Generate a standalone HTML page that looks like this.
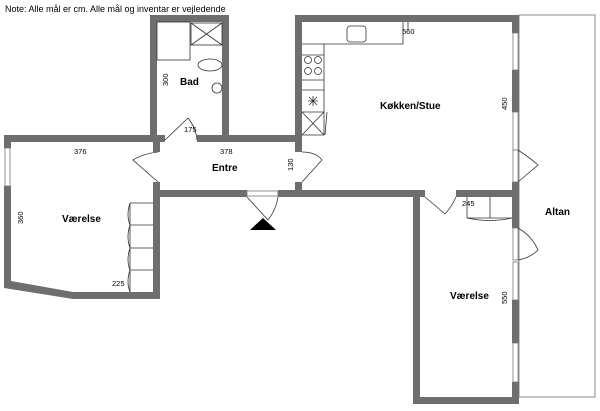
<!DOCTYPE html>
<html><head><meta charset="utf-8"><style>
html,body{margin:0;padding:0;background:#fff;width:600px;height:411px;overflow:hidden}
svg{display:block}
text{font-family:"Liberation Sans",sans-serif;fill:#000}
.b{font-weight:bold;font-size:10px}
.s{font-size:7.5px}
</style></head><body>
<svg width="600" height="411" viewBox="0 0 600 411" xmlns="http://www.w3.org/2000/svg">
<text x="5" y="12" font-size="9">Note: Alle mål er cm. Alle mål og inventar er vejledende</text>
<!-- Altan -->
<rect x="519" y="15" width="76" height="382" fill="none" stroke="#888" stroke-width="1"/>
<g fill="#6e6e6e">
<!-- Bad -->
<rect x="150" y="15" width="79" height="7"/>
<rect x="150" y="15" width="7" height="127"/>
<rect x="222" y="15" width="7" height="127"/>
<!-- top of entre / left room -->
<rect x="4" y="135" width="153" height="7"/>
<rect x="157" y="135" width="8" height="7"/>
<rect x="197" y="135" width="100" height="7"/>
<rect x="222" y="135" width="80" height="7"/>
<!-- kitchen -->
<rect x="295" y="15" width="224" height="7"/>
<rect x="295" y="15" width="7" height="137"/>
<rect x="295" y="182" width="7" height="15"/>
<rect x="512" y="15" width="7" height="18"/>
<rect x="512" y="70" width="7" height="42"/>
<rect x="512" y="182" width="7" height="46"/>
<rect x="512" y="300" width="7" height="43"/>
<rect x="512" y="382" width="7" height="22"/>
<!-- entre bottom + kitchen bottom -->
<rect x="153" y="190" width="94" height="7"/>
<rect x="278" y="190" width="147" height="7"/>
<rect x="456" y="190" width="63" height="7"/>
<!-- left room -->
<rect x="4" y="135" width="7" height="13"/>
<rect x="4" y="186" width="7" height="102"/>
<rect x="153" y="135" width="7" height="17"/>
<rect x="153" y="182" width="7" height="117"/>
<polygon points="4,281 11,281 73,292 160,292 160,299 73,299 4,288"/>
<!-- lower room -->
<rect x="413" y="190" width="7" height="214"/>
<rect x="413" y="397" width="106" height="7"/>
</g>
<!-- windows -->
<g fill="#fff" stroke="#777" stroke-width="0.8">
<rect x="5" y="148" width="5" height="38"/>
<rect x="513" y="33" width="5" height="37"/>
<rect x="513" y="112" width="5" height="38"/>
<rect x="513" y="262" width="5" height="38"/>
<rect x="513" y="343" width="5" height="39"/>
<rect x="513" y="150" width="5" height="32"/>
<rect x="513" y="228" width="5" height="32"/>
<rect x="247" y="191" width="31" height="5"/>
</g>
<!-- doors -->
<g fill="none" stroke="#333" stroke-width="0.8">
<path d="M165,140 L188,118 M188,118 Q196,128 197,140"/>
<path d="M158,182 L133,160 Q142,154 158,152"/>
<path d="M302,152 Q316,152 322,160 L302,182"/>
<path d="M518,150 Q530,158 538,165 L518,182"/>
<path d="M518,228 Q532,236 538,250 Q530,258 518,260"/>
<path d="M247,197 L268,220 Q276,210 278,197"/>
<path d="M425,197 L445,214 Q452,206 456,197"/>
<!-- bath fixtures -->
<rect x="157" y="22" width="33" height="38"/>
<rect x="191" y="23" width="31" height="22"/>
<path d="M191,23 L222,45 M222,23 L191,45"/>
<ellipse cx="210" cy="65" rx="12" ry="6"/>
<circle cx="217" cy="88" r="5"/>
<!-- kitchen counter -->
<path d="M302,44 L403,44 L403,22 M324,44 L324,135 L302,135 M302,55 L324,55 M302,80 L324,80 M302,90 L324,90 M302,112 L324,112 M302,112 L324,135 M324,112 L302,135 M327,112 L325,135"/>
<rect x="347" y="26" width="19" height="16" rx="3"/>
<circle cx="308" cy="60" r="3.5"/><circle cx="318" cy="60" r="3.5"/>
<circle cx="308" cy="71" r="3.5"/><circle cx="318" cy="71" r="3.5"/>
<path d="M313,96 L313,106 M308,101 L318,101 M309,97 L317,105 M317,97 L309,105"/>
<!-- wardrobe left -->
<path d="M130,203 L153,203 M130,225 L153,225 M130,248 L153,248 M130,270 L153,270 M130,203 L130,292"/>
<path d="M130,203 Q126,215 130,225 Q126,237 130,248 Q126,260 130,270 Q126,282 130,292"/>
<!-- wardrobe right -->
<path d="M467,197 L467,218 M490,197 L490,218 M467,218 L512,218"/>
<path d="M467,218 Q490,223 512,218"/>
<path d="M408,22 L408,30"/>
</g>
<polygon points="263,218 250,230 276,230" fill="#000"/>
<!-- labels -->
<text class="b" x="180" y="85">Bad</text>
<text class="b" x="212" y="171">Entre</text>
<text class="b" x="380" y="109">Køkken/Stue</text>
<text class="b" x="62" y="222">Værelse</text>
<text class="b" x="450" y="299">Værelse</text>
<text class="b" x="545" y="215">Altan</text>
<text class="s" x="74" y="154">376</text>
<text class="s" x="220" y="154">378</text>
<text class="s" x="184" y="132">175</text>
<text class="s" x="402" y="34">560</text>
<text class="s" x="112" y="286">225</text>
<text class="s" x="462" y="206">245</text>
<text class="s" transform="translate(168,86) rotate(-90)">300</text>
<text class="s" transform="translate(293,171) rotate(-90)">130</text>
<text class="s" transform="translate(507,110) rotate(-90)">450</text>
<text class="s" transform="translate(23,224) rotate(-90)">360</text>
<text class="s" transform="translate(507,304) rotate(-90)">550</text>
</svg>
</body></html>
